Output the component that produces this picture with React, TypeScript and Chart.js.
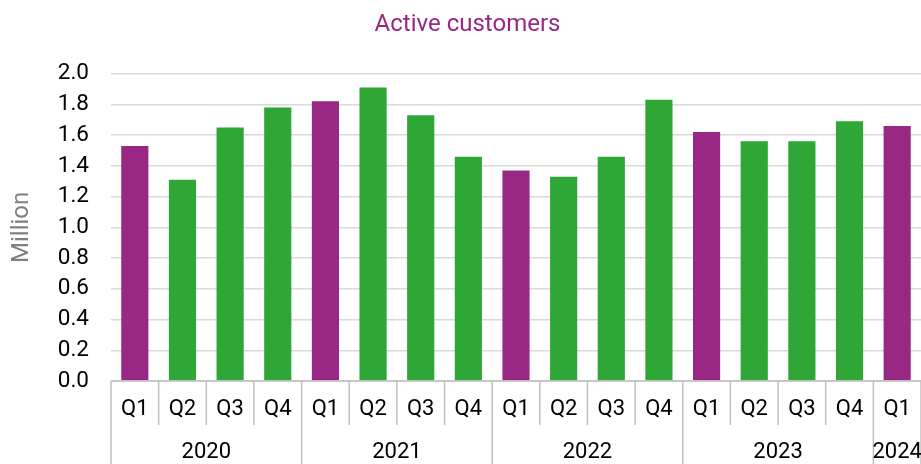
import React, { useEffect, useRef } from "react";
import { Chart, registerables } from "chart.js";

Chart.register(...registerables);

const chartTitle = "Active customers";
const yAxisTitle = "Million";
const quarters = ["Q1", "Q2", "Q3", "Q4", "Q1", "Q2", "Q3", "Q4", "Q1", "Q2", "Q3", "Q4", "Q1", "Q2", "Q3", "Q4", "Q1"];
const barYears = ["2020", "2020", "2020", "2020", "2021", "2021", "2021", "2021", "2022", "2022", "2022", "2022", "2023", "2023", "2023", "2023", "2024"];
const years = ["2020", "2021", "2022", "2023", "2024"];
const activeCustomers = [1.53, 1.31, 1.65, 1.78, 1.82, 1.91, 1.73, 1.46, 1.37, 1.33, 1.46, 1.83, 1.62, 1.56, 1.56, 1.69, 1.66];
const yMin = 0;
const yMax = 2.0;
const yStep = 0.2;

const PURPLE = "#992884";
const GREEN = "#2ea737";
const FONT = "Roboto";

const twoLevelAxis = {
  id: "twoLevelAxis",
  afterDraw(chart: any) {
    const { ctx, chartArea, scales } = chart;
    const x = scales.x;
    const n = quarters.length;
    const step = x.getPixelForValue(1) - x.getPixelForValue(0);
    const bottom = chartArea.bottom;
    const H = chart.height;
    ctx.save();
    ctx.strokeStyle = "#bfbfbf";
    ctx.lineWidth = 1.5;
    ctx.beginPath();
    ctx.moveTo(chartArea.left, bottom);
    ctx.lineTo(chartArea.right, bottom);
    ctx.stroke();
    for (let i = 0; i <= n; i++) {
      const bx = i < n ? x.getPixelForValue(i) - step / 2 : x.getPixelForValue(n - 1) + step / 2;
      const isYear = i === 0 || i === n || barYears[i] !== barYears[i - 1];
      ctx.beginPath();
      ctx.moveTo(bx, bottom);
      ctx.lineTo(bx, isYear ? H : bottom + 44);
      ctx.stroke();
    }
    ctx.fillStyle = "#000000";
    ctx.textAlign = "center";
    ctx.textBaseline = "middle";
    ctx.font = `22px ${FONT}`;
    quarters.forEach((q, i) => {
      ctx.fillText(q, x.getPixelForValue(i), bottom + 28.5);
    });
    years.forEach((yr) => {
      const idx = barYears.map((b, i) => (b === yr ? i : -1)).filter((i) => i >= 0);
      const cx = (x.getPixelForValue(idx[0]) + x.getPixelForValue(idx[idx.length - 1])) / 2;
      ctx.fillText(yr, cx, bottom + 71);
    });
    // chart title
    ctx.fillStyle = PURPLE;
    ctx.font = `24px ${FONT}`;
    ctx.fillText(chartTitle, chart.width / 2 + 7, 25);
    ctx.restore();
  },
};

export default function App() {
  const ref = useRef<HTMLCanvasElement | null>(null);
  useEffect(() => {
    if (!ref.current) return;
    const chart = new Chart(ref.current, {
      type: "bar",
      data: {
        labels: quarters.map((q, i) => `${q} ${barYears[i]}`),
        datasets: [
          {
            label: chartTitle,
            data: activeCustomers,
            backgroundColor: quarters.map((q) => (q === "Q1" ? PURPLE : GREEN)),
            borderWidth: 0,
            categoryPercentage: 1,
            barPercentage: 0.57,
          },
        ],
      },
      options: {
        animation: false,
        responsive: true,
        maintainAspectRatio: false,
        layout: { padding: { left: 0, right: 0, top: 73.7, bottom: 83 } },
        plugins: {
          legend: { display: false },
          tooltip: { enabled: false },
          title: { display: false },
        },
        scales: {
          x: {
            type: "category",
            display: false,
            offset: true,
          },
          y: {
            min: yMin,
            max: yMax,
            afterFit(scale: any) {
              scale.width = 111;
            },
            ticks: {
              stepSize: yStep,
              padding: 22,
              color: "#000000",
              font: { family: FONT, size: 22.5 },
              callback: (v: any) => Number(v).toFixed(1),
            },
            grid: { color: "#d9d9d9", lineWidth: 1.5, drawTicks: false },
            border: { display: false },
            title: {
              display: true,
              text: yAxisTitle,
              color: "#7f7f7f",
              font: { family: FONT, size: 24 },
              padding: { top: 8, bottom: 0 },
            },
          },
        },
      },
      plugins: [twoLevelAxis],
    });
    return () => chart.destroy();
  }, []);
  return (
    <div style={{ position: "fixed", left: 0, top: 0, width: 921, height: 464 }}>
      <canvas ref={ref} />
    </div>
  );
}
